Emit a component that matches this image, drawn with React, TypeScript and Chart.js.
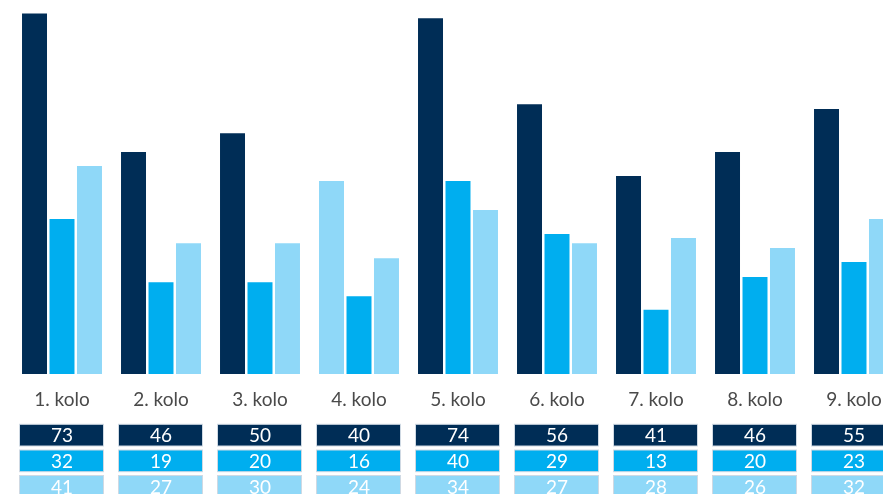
import React, { useEffect, useRef } from "react";
import { Chart, registerables } from "chart.js";

Chart.register(...registerables);

const categories = ["1. kolo", "2. kolo", "3. kolo", "4. kolo", "5. kolo", "6. kolo", "7. kolo", "8. kolo", "9. kolo"];

// bar heights
const seriesA = [74.7, 46, 49.9, 40, 73.7, 55.9, 41, 46, 54.9];
const seriesB = [32.1, 19, 19, 16.1, 40, 29, 13.3, 20.1, 23.2];
const seriesC = [43.1, 27.1, 27.1, 24, 34, 27.1, 28.2, 26.1, 32.1];

// values printed in the table under the chart
const tableA = [73, 46, 50, 40, 74, 56, 41, 46, 55];
const tableB = [32, 19, 20, 16, 40, 29, 13, 20, 23];
const tableC = [41, 27, 30, 24, 34, 27, 28, 26, 32];

const DARK = "#002d56";
const MID = "#00aeef";
const LIGHT = "#8fd8f8";

const tablePlugin = {
  id: "kolaTable",
  afterDraw(chart: any) {
    const ctx = chart.ctx;
    const xs = chart.scales.x;
    const rows = [
      { vals: tableA, color: DARK, top: 416.3 },
      { vals: tableB, color: MID, top: 442 },
      { vals: tableC, color: LIGHT, top: 467.5 },
    ];
    ctx.save();
    categories.forEach((cat, i) => {
      const x = xs.getPixelForValue(i);
      ctx.fillStyle = "#4a4a4a";
      ctx.font = "19px Lato";
      ctx.textAlign = "center";
      ctx.textBaseline = "alphabetic";
      ctx.fillText(cat, x, 398);
      rows.forEach((r) => {
        const left = x - 42.5;
        ctx.fillStyle = r.color;
        ctx.fillRect(left, r.top, 84, 21.7);
        ctx.strokeStyle = "#cfd9e3";
        ctx.lineWidth = 1;
        ctx.strokeRect(left, r.top, 84, 21.7);
        ctx.fillStyle = "#ffffff";
        ctx.font = "19px Lato";
        ctx.fillText(String(r.vals[i]), x, r.top + 18);
      });
    });
    ctx.restore();
  },
};

export default function App() {
  const ref = useRef<HTMLCanvasElement>(null);
  useEffect(() => {
    document.documentElement.style.overflow = "hidden";
    if (!ref.current) return;
    const aColors = seriesA.map((_, i) => (i === 3 ? LIGHT : DARK));
    const chart = new Chart(ref.current, {
      type: "bar",
      data: {
        labels: categories,
        datasets: [
          { data: seriesA, backgroundColor: aColors },
          { data: seriesB, backgroundColor: MID },
          { data: seriesC, backgroundColor: LIGHT },
        ],
      },
      options: {
        responsive: false,
        animation: false,
        devicePixelRatio: 1,
        layout: { padding: { left: 4.5, right: 4.5, top: 4, bottom: 120 } },
        datasets: { bar: { categoryPercentage: 0.833, barPercentage: 0.909 } },
        plugins: { legend: { display: false }, tooltip: { enabled: false } },
        scales: {
          x: { display: false },
          y: { display: false, min: 0, max: 75 },
        },
      },
      plugins: [tablePlugin],
    });
    return () => chart.destroy();
  }, []);
  return (
    <div style={{ position: "fixed", left: 8, top: 8, width: 900, height: 486, overflow: "hidden" }}>
      <canvas ref={ref} width={900} height={486} style={{ display: "block" }} />
    </div>
  );
}
